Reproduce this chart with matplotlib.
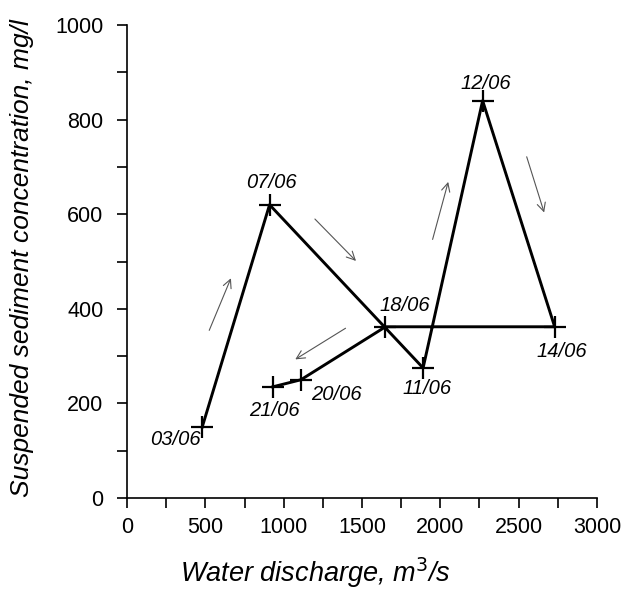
import numpy as np
import matplotlib.pyplot as plt
from matplotlib.ticker import MultipleLocator

plt.rcParams['font.family'] = ['Liberation Sans', 'DejaVu Sans']

# data
dates = ['03/06', '07/06', '11/06', '12/06', '14/06', '18/06', '20/06', '21/06']
discharge = [480, 910, 1890, 2270, 2730, 1650, 1110, 930]
concentration = [150, 620, 275, 840, 362, 362, 250, 235]

# label positions (data coords)
label_x = [306, 925, 1915, 2291, 2776, 1774, 1340, 938]
label_y = [123, 668, 232, 877, 309, 406, 218, 186]

# direction arrows: (x_start, y_start, x_end, y_end)
arrows = [
    (518, 349, 670, 470),
    (1187, 594, 1474, 497),
    (1946, 541, 2055, 674),
    (2546, 727, 2668, 598),
    (1410, 362, 1059, 290),
]

fig = plt.figure(figsize=(6.3, 5.95), dpi=100)
ax = fig.add_axes([0.2016, 0.163, 0.746, 0.795])

ax.plot(discharge, concentration, color='black', lw=2.1,
        marker='+', markersize=16, mew=1.6, zorder=3)

for d, lx, ly in zip(dates, label_x, label_y):
    ax.text(lx, ly, d, fontsize=14.5, style='italic', ha='center', va='center')

for x0, y0, x1, y1 in arrows:
    ax.annotate('', xy=(x1, y1), xytext=(x0, y0),
                arrowprops=dict(arrowstyle='->', color='#555555', lw=0.8,
                                mutation_scale=15))

ax.set_xlim(0, 3000)
ax.set_ylim(0, 1000)
ax.xaxis.set_major_locator(MultipleLocator(500))
ax.xaxis.set_minor_locator(MultipleLocator(250))
ax.yaxis.set_major_locator(MultipleLocator(200))
ax.yaxis.set_minor_locator(MultipleLocator(100))
ax.tick_params(which='both', direction='out', length=7, width=1.2, labelsize=15.5)
ax.tick_params(axis='x', pad=7)
ax.tick_params(axis='y', pad=10)

for s in ['top', 'right']:
    ax.spines[s].set_visible(False)
for s in ['left', 'bottom']:
    ax.spines[s].set_linewidth(1.2)

fig.text(0.5, 0.038, 'Water discharge, m$^3$/s', fontsize=19.5, style='italic',
         ha='center', va='center')
fig.text(0.035, 0.567, 'Suspended sediment concentration, mg/l', fontsize=19,
         style='italic', ha='center', va='center', rotation=90)

fig.savefig('out.png', dpi=100)
